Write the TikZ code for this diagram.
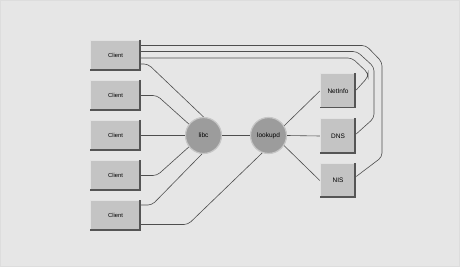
\documentclass[tikz,border=0pt]{standalone}
\usepackage{fontspec}
\setmainfont{Liberation Sans}
\usepackage{tikz}
\usetikzlibrary{positioning}
\definecolor{paper}{HTML}{E6E6E6}
\definecolor{frame}{HTML}{DDDDDD}
\definecolor{boxgray}{HTML}{C4C4C4}
\definecolor{boxlight}{HTML}{E2E2E2}
\definecolor{boxdark}{HTML}{555555}
\definecolor{ball}{HTML}{9C9C9C}
\definecolor{rim}{HTML}{C6C6C6}
\definecolor{wire}{HTML}{4E4E4E}
\tikzset{
  bevel/.style={fill=boxgray,inner sep=0pt,
    path picture={
      \draw[boxlight,line width=1] ([xshift=.5]path picture bounding box.south west)
        -- ([xshift=.5,yshift=-.5]path picture bounding box.north west)
        -- ([yshift=-.5]path picture bounding box.north east);
      \draw[boxdark,line width=1.6] ([xshift=-.8]path picture bounding box.north east)
        -- ([xshift=-.8,yshift=.8]path picture bounding box.south east)
        -- ([yshift=.8]path picture bounding box.south west);}},
  clientbox/.style={bevel,minimum width=51,minimum height=31,font=\fontsize{5.8}{7}\selectfont},
  svcbox/.style={bevel,minimum width=36,minimum height=35,font=\fontsize{6.5}{8}\selectfont},
  proc/.style={circle,fill=ball,draw=rim,line width=1.2,minimum size=36,inner sep=0pt,
    font=\fontsize{6.5}{8}\selectfont},
  wire/.style={draw=wire,line width=.6,rounded corners=4}
}
\begin{document}
\begin{tikzpicture}[x=1pt,y=-1pt]
  \fill[paper] (0,0) rectangle (460,267);
  \draw[frame,line width=.6] (.3,.3) rectangle (459.7,266.7);
  \useasboundingbox (0,0) rectangle (460,267);

  \foreach \i/\y in {1/55.5,2/95.5,3/135.5,4/175.5,5/215.5}
    \node[clientbox] (c\i) at (115.5,\y) {Client};

  \node[proc] (libc) at (203.5,135.5) {libc};
  \node[proc] (lookupd) at (268.5,135.5) {lookupd};

  \node[svcbox] (netinfo) at (338,91) {NetInfo};
  \node[svcbox] (dns) at (338,136) {DNS};
  \node[svcbox] (nis) at (338,180.5) {NIS};

  % clients to libc
  \draw[wire] ([yshift=-8.5]c1.east) -- (148,64) -- (libc.north);
  \draw[wire] (c2.east) -- (157,95.5) -- (libc.142);
  \draw[wire] (c3.east) -- (libc.west);
  \draw[wire] (c4.east) -- (157,175.5) -- (libc.218);
  \draw[wire] ([yshift=10.5]c5.east) -- (152,205) -- (libc.265);
  \draw[wire] ([yshift=-9]c5.east) -- (188,224.5) -- (lookupd.250);

  % lookupd to the services
  \draw[wire] (libc.east) -- (lookupd.west);
  \draw[wire] (lookupd.32) -- (netinfo.west);
  \draw[wire] (lookupd.east) -- (dns.west);
  \draw[wire] (lookupd.-33) -- (nis.west);

  % direct lines from the first client
  \draw[wire] ([yshift=10]c1.east) -- (366,45.5) -- (382,62) -- (382,157) -- ([yshift=4]nis.east);
  \draw[wire] ([yshift=4]c1.east) -- (357,51.5) -- (374,67) -- (374,118) -- ([yshift=2]dns.east);
  \draw[wire] ([yshift=-2.5]c1.east) -- (352,58) -- (368,73) -- (368,77) -- ([yshift=1]netinfo.east);
\end{tikzpicture}
\end{document}
